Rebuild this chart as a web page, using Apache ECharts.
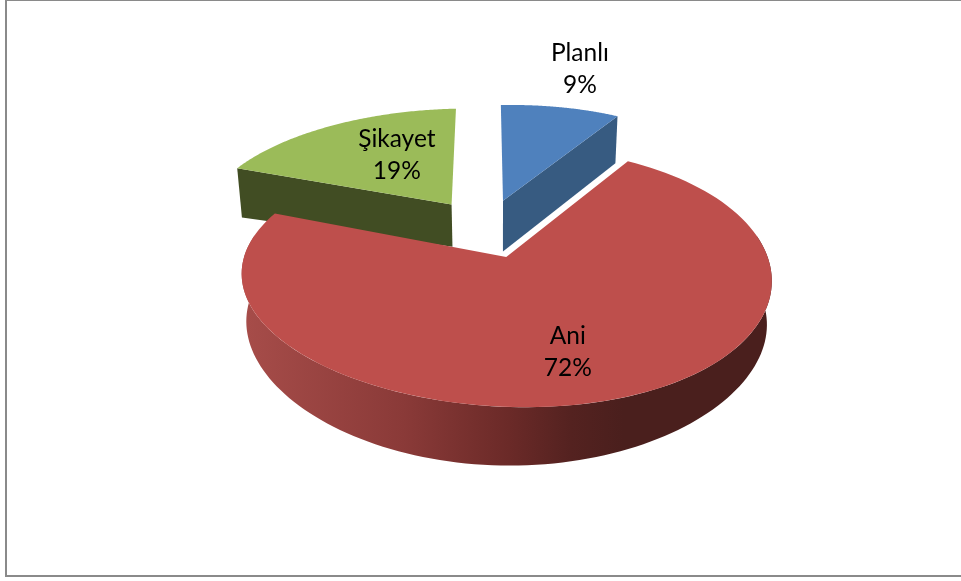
<!DOCTYPE html>
<html>
<head>
<meta charset="utf-8">
<style>html,body{margin:0;padding:0;background:#fff}#c{width:961px;height:581px}</style>
<script src="https://cdn.jsdelivr.net/npm/echarts@6/dist/echarts.min.js"></script>
</head>
<body>
<div id="c"></div>
<script>
var categories = ['Planlı', 'Ani', 'Şikayet'];
var values = [9, 72, 19];
var topColors = ['#4F81BD', '#BE4F4C', '#9BBB59'];
var sideColors = ['#375B81', '#BE4F4C', '#414D23'];

// Projection of the tilted, exploded pie
var CX = 486, CY = 228, AX = 252.5, GY = 117.3, K = 0.15, SKEW = -0.04, EXPLODE = 0.25, DEPTH = 52, BOTTOM_CX = 500, BOTTOM_SCALE = 0.982;
var RIM_DROP = 45.1, RIM_G = 117, RIM_K = 0.2;
var labelAnchors = [[0.465, 1.67], [0.28, -0.90], [-0.39, 0.70]];
var apexDepths = [52, 52, 43];
var rimFill = {
  type: 'linear', x: 247, y: 0, x2: 770, y2: 0, global: true,
  colorStops: [
    { offset: 0, color: '#A64C49' },
    { offset: 0.3, color: '#8A3A38' },
    { offset: 0.5, color: '#6B2A28' },
    { offset: 0.62, color: '#542220' },
    { offset: 0.72, color: '#4A1F1D' },
    { offset: 1, color: '#4A1F1D' }
  ]
};
var total = values.reduce(function (a, b) { return a + b; }, 0);

function top3(X, Z) {
  return [CX + AX * X / (1 + K * Z), CY - GY * Z / (1 + K * Z + SKEW * X)];
}
function bottom3(X, Z, depth) {
  var p = top3(X, Z);
  return [BOTTOM_CX + (p[0] - BOTTOM_CX) * BOTTOM_SCALE, p[1] + (depth || DEPTH) / (1 + 0.1 * Z)];
}
function rimBottom(X, Z) {
  var p = top3(X, Z);
  return [BOTTOM_CX + (p[0] - BOTTOM_CX) * BOTTOM_SCALE, CY + RIM_DROP - RIM_G * Z / (1 + RIM_K * Z)];
}

function renderSlice(params, api) {
  var i = params.dataIndex;
  var value = api.value(0);
  var before = 0;
  for (var j = 0; j < i; j++) before += values[j];
  var a0 = before / total * Math.PI * 2;
  var a1 = (before + value) / total * Math.PI * 2;
  var mid = (a0 + a1) / 2;
  var ox = EXPLODE * Math.sin(mid), oz = EXPLODE * Math.cos(mid);
  var rim = function (a) { return [ox + Math.sin(a), oz + Math.cos(a)]; };
  var zBase = i === 1 ? 10 : 1;
  var children = [];
  var topPts = [top3(ox, oz)];
  var N = 120;
  for (var n = 0; n <= N; n++) {
    var r = rim(a0 + (a1 - a0) * n / N);
    topPts.push(top3(r[0], r[1]));
  }
  // visible cut faces
  function cutFace(a) {
    var r = rim(a);
    children.push({
      type: 'polygon', z2: zBase,
      shape: { points: [top3(ox, oz), top3(r[0], r[1]), bottom3(r[0], r[1]), bottom3(ox, oz, apexDepths[i])] },
      style: { fill: sideColors[i] }
    });
  }
  if (a1 > 0 && a1 < Math.PI / 2) cutFace(a1);
  if (a0 > Math.PI * 1.5 && a0 < Math.PI * 2) cutFace(a0);
  // front rim
  var lo = Math.max(a0, 80 * Math.PI / 180), hi = Math.min(a1, 280 * Math.PI / 180);
  if (hi > lo) {
    var upper = [], lower = [];
    for (var m = 0; m <= N; m++) {
      var q = rim(lo + (hi - lo) * m / N);
      upper.push(top3(q[0], q[1]));
      lower.unshift(rimBottom(q[0], q[1]));
    }
    children.push({
      type: 'polygon', z2: zBase,
      shape: { points: upper.concat(lower) },
      style: { fill: rimFill }
    });
  }
  children.push({
    type: 'polygon', z2: zBase + 1,
    shape: { points: topPts },
    style: { fill: topColors[i] }
  });
  var anchor = top3(labelAnchors[i][0], labelAnchors[i][1]);
  children.push({
    type: 'text', z2: 50,
    style: {
      text: categories[i] + '\n' + Math.round(value / total * 100) + '%',
      x: anchor[0], y: anchor[1],
      align: 'center', verticalAlign: 'middle',
      font: '24.5px Lato', lineHeight: 32, fill: '#000'
    }
  });
  return { type: 'group', children: children };
}

var chart = echarts.init(document.getElementById('c'), null, { renderer: 'canvas', width: 961, height: 581 });
chart.setOption({
  animation: false,
  backgroundColor: '#fff',
  graphic: [{
    type: 'rect', silent: true, z: 0,
    shape: { x: 6, y: 0, width: 1000, height: 576 },
    style: { fill: 'none', stroke: '#8A8A8A', lineWidth: 2 }
  }],
  series: [{
    type: 'custom',
    coordinateSystem: 'none',
    z: 2,
    renderItem: renderSlice,
    data: values.map(function (v, i) { return { name: categories[i], value: [v] }; })
  }]
});
</script>
</body>
</html>
